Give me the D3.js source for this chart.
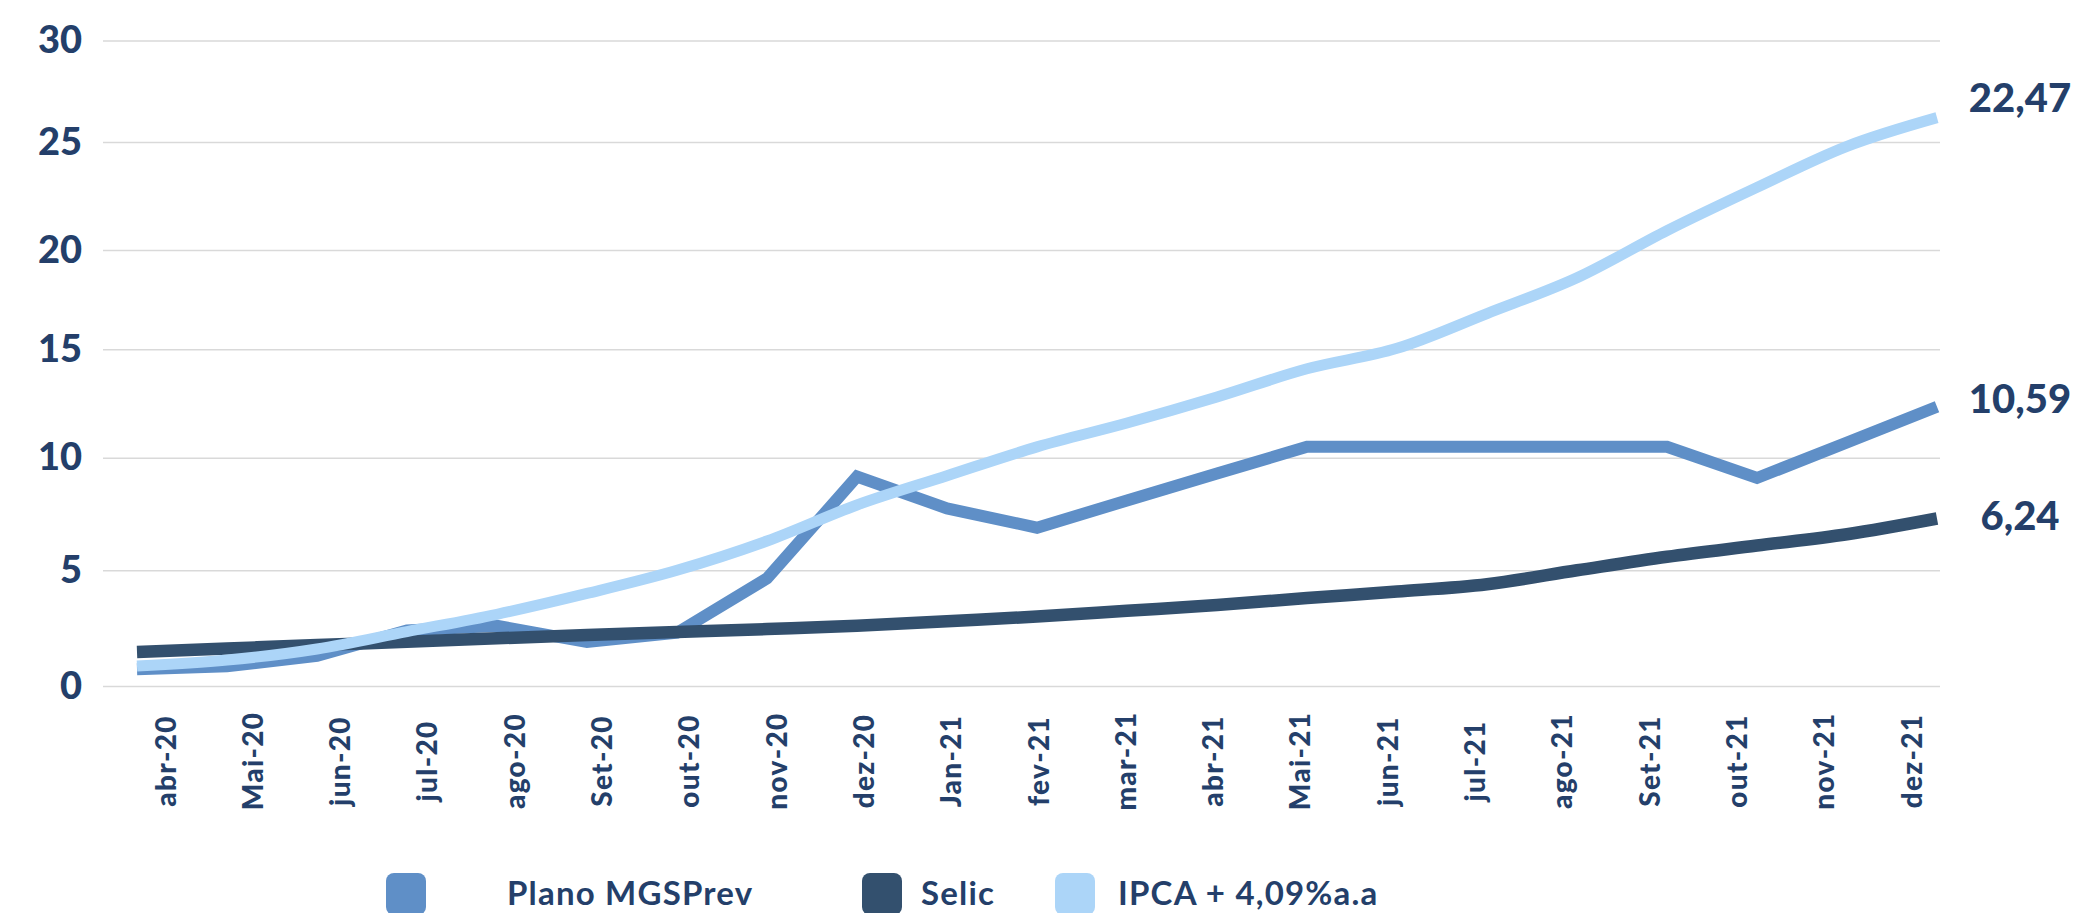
<!DOCTYPE html>
<html>
  <head>
    <meta charset="UTF-8" />
    <title>Plano MGSPrev x Selic x IPCA</title>
    <style>
      body { margin: 0; background: #fff; }
      svg { display: block; font-family: Lato, "Open Sans", sans-serif; }
    </style>
  </head>
  <body>
    <svg id="chart"></svg>

    <script src="https://d3js.org/d3.v7.min.js"></script>
    <script>
      // data
      const months = ["abr-20", "Mai-20", "jun-20", "jul-20", "ago-20", "Set-20", "out-20",
        "nov-20", "dez-20", "Jan-21", "fev-21", "mar-21", "abr-21", "Mai-21", "jun-21",
        "jul-21", "ago-21", "Set-21", "out-21", "nov-21", "dez-21"];
      const planoMGSPrev = [0.72, 0.85, 1.3, 2.4, 2.6, 1.9, 2.3, 4.65, 9.16, 7.75, 6.89,
        8.1, 9.3, 10.5, 10.5, 10.5, 10.5, 10.5, 9.1, 10.7, 12.35];
      const selic = [1.47, 1.62, 1.77, 1.91, 2.06, 2.2, 2.33, 2.46, 2.6, 2.8, 3.0,
        3.25, 3.5, 3.8, 4.08, 4.4, 5.0, 5.6, 6.1, 6.6, 7.3];
      const ipca = [0.86, 1.12, 1.6, 2.35, 3.1, 4.0, 5.0, 6.3, 7.9, 9.2, 10.5,
        11.6, 12.8, 14.1, 15.05, 16.8, 18.6, 20.9, 22.9, 24.8, 26.2];
      const yTicks = [0, 5, 10, 15, 20, 25, 30];
      const seriesNames = ["Plano MGSPrev", "Selic", "IPCA + 4,09%a.a"];
      const endLabels = ["10,59", "6,24", "22,47"];

      const width = 2080,
        height = 913;
      const navy = "#243f6a";
      const colors = ["#5f8fc7", "#33506e", "#acd5f8"];

      let svg = d3.select("#chart").attr("width", width).attr("height", height);

      // the value axis in the picture is not evenly spaced, so map each gridline
      let y = d3.scaleLinear()
        .domain(yTicks)
        .range([686, 570.3, 457.7, 349.3, 250, 142, 40.5]);

      // lines and month labels do not share the same spacing in the original
      let xLine = d3.scalePoint().domain(months).range([137, 1937]);
      let xLabel = d3.scalePoint().domain(months).range([165, 1911]);

      // gridlines + y labels
      let gridLeft = 103,
        gridRight = 1940;
      let yAxis = svg.append("g")
        .attr("transform", "translate(" + gridLeft + ",0)")
        .call(d3.axisLeft(y)
          .tickValues(yTicks)
          .tickSize(-(gridRight - gridLeft))
          .tickPadding(21)
          .tickFormat(d3.format("d")));
      yAxis.select(".domain").remove();
      yAxis.selectAll(".tick line")
        .attr("stroke", "#d9d9d9")
        .attr("stroke-width", 1.6);
      yAxis.selectAll(".tick text")
        .attr("fill", navy)
        .style("font-size", "38px")
        .style("font-weight", 900)
        .style("font-family", "Lato, sans-serif");

      // month labels, rotated
      let xAxis = svg.append("g")
        .attr("transform", "translate(0,686)")
        .call(d3.axisBottom(xLabel).tickSize(0));
      xAxis.select(".domain").remove();
      xAxis.selectAll(".tick text")
        .attr("transform", "rotate(-90)")
        .attr("x", -75)
        .attr("y", 0)
        .attr("dy", "0.36em")
        .style("text-anchor", "middle")
        .attr("fill", navy)
        .style("font-size", "28px")
        .style("font-weight", 900)
        .style("letter-spacing", "1.3px")
        .style("font-family", "Lato, sans-serif");

      // lines: Plano first, then Selic, IPCA on top
      let series = [
        { name: seriesNames[0], values: planoMGSPrev, color: colors[0], width: 12, curve: d3.curveLinear },
        { name: seriesNames[1], values: selic, color: colors[1], width: 12.5, curve: d3.curveMonotoneX },
        { name: seriesNames[2], values: ipca, color: colors[2], width: 11, curve: d3.curveMonotoneX },
      ];

      svg.append("g")
        .attr("id", "lines")
        .selectAll("path")
        .data(series)
        .enter()
        .append("path")
        .attr("fill", "none")
        .attr("stroke", (d) => d.color)
        .attr("stroke-width", (d) => d.width)
        .attr("stroke-linejoin", "miter")
        .attr("d", (d) =>
          d3.line()
            .x((v, i) => xLine(months[i]))
            .y((v) => y(v))
            .curve(d.curve)(d.values)
        );

      // final value labels on the right
      let endY = [413, 530, 112];
      svg.append("g")
        .selectAll("text")
        .data(endLabels)
        .enter()
        .append("text")
        .attr("x", 2020)
        .attr("y", (d, i) => endY[i])
        .attr("text-anchor", "middle")
        .attr("fill", navy)
        .style("font-size", "40px")
        .style("font-weight", 900)
        .text((d) => d);

      // legend
      let legendPos = [
        { box: 386, text: 507 },
        { box: 862, text: 921 },
        { box: 1055, text: 1118 },
      ];
      let legend = svg.append("g")
        .attr("class", "legend")
        .selectAll("g")
        .data(series)
        .enter()
        .append("g");
      legend.append("rect")
        .attr("x", (d, i) => legendPos[i].box)
        .attr("y", 873)
        .attr("width", 40)
        .attr("height", 42)
        .attr("rx", 8)
        .attr("fill", (d) => d.color);
      legend.append("text")
        .attr("x", (d, i) => legendPos[i].text)
        .attr("y", 905)
        .attr("fill", navy)
        .style("font-size", "33px")
        .style("font-weight", 700)
        .style("letter-spacing", "1.2px")
        .text((d) => d.name);
    </script>
  </body>
</html>
